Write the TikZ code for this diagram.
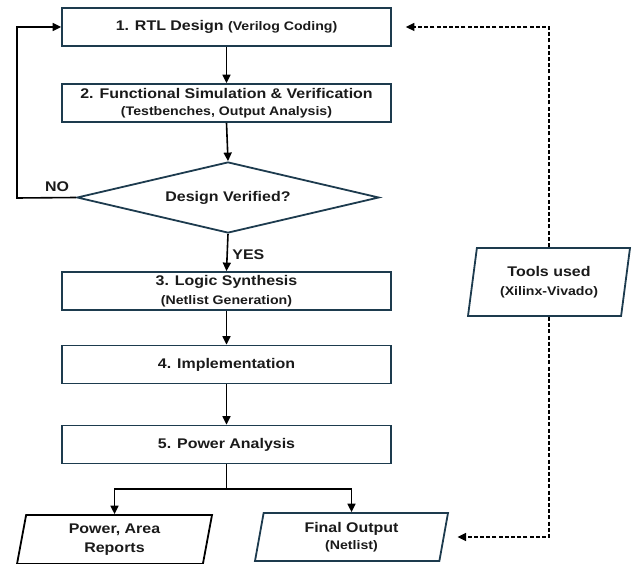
\documentclass[tikz,border=0pt]{standalone}
\usepackage{fontspec}
\setmainfont{Liberation Sans}[FakeStretch=1.14]
\usetikzlibrary{shapes.geometric,arrows.meta}

\definecolor{boxline}{HTML}{1D3B4E}
\definecolor{txt}{HTML}{1A1A1A}
\newcommand{\bigtxt}{\fontsize{14}{16.5}\selectfont\bfseries}
\newcommand{\smalltxt}{\fontsize{12.4}{14}\selectfont\bfseries}
\def\boxwidth{329pt}

\begin{document}
\begin{tikzpicture}[x=1pt,y=-1pt,>={Triangle[length=8.5pt,width=8pt]},font=\bigtxt,text=txt]
    \tikzstyle{stage}=[rectangle,draw=boxline,line width=1.8pt,minimum width=\boxwidth,minimum height=38pt,inner sep=1pt,align=center]
    \tikzstyle{check}=[diamond,draw=boxline,line width=1.8pt,aspect=4.25,minimum width=302pt,minimum height=71pt,inner sep=0pt]
    \tikzstyle{io}=[trapezium,trapezium left angle=75,trapezium right angle=105,trapezium stretches body=true,draw=boxline,line width=1.8pt,inner sep=1pt,align=center]
    \tikzstyle{flow}=[->,line width=1.6pt,draw=black]
    \tikzstyle{tool}=[->,line width=1.4pt,draw=black,dash pattern=on 4pt off 2.2pt]

    \useasboundingbox (0,0) rectangle (637,564);

    % design flow
    \node[stage] (rtl) at (226.5,27) {1. RTL Design {\smalltxt(Verilog Coding)}};
    \node[stage,text depth=2pt] (sim) at (226.5,103) {2. Functional Simulation \& Verification\\[0pt]{\smalltxt(Testbenches, Output Analysis)}};
    \node[check] (ok) at (228,197.5) {Design Verified?};
    \node[stage] (syn) at (226.5,291) {3. Logic Synthesis\\[3pt]{\smalltxt(Netlist Generation)}};
    \node[stage] (impl) at (226.5,364.5) {4. Implementation};
    \node[stage] (pwr) at (226.5,444.5) {5. Power Analysis};

    % outputs and tools
    \node[io,draw=black,minimum width=195pt,minimum height=49pt] (rep) at (114.5,539.5) {Power, Area\\[3pt]Reports};
    \node[io,minimum width=193pt,minimum height=48pt] (out) at (351.5,537) {Final Output\\[1pt]{\smalltxt(Netlist)}};
    \node[io,minimum width=162pt,minimum height=68pt] (tools) at (549,282) {Tools used\\[2pt]{\smalltxt(Xilinx-Vivado)}};

    \coordinate (split) at (226.5,489);
    \coordinate (back) at (17,198);

    \draw[flow] (rtl) -- (sim);
    \draw[flow] (sim.south) -- (ok.north);
    \draw[flow] (ok.south) -- node[right,xshift=1pt,yshift=-2pt] {YES} (syn.north);
    \draw[flow] (syn) -- (impl);
    \draw[flow] (impl) -- (pwr);
    \draw[flow] (ok.west) -- (back) |- (rtl.west);
    \node at (57,187) {NO};

    \draw[line width=1.6pt] (pwr.south) -- (split);
    \draw[flow] (split) -| (rep.north);
    \draw[flow] (split) -| (out.north);

    \draw[tool,shorten >=14pt] (tools.north) |- (rtl.east);
    \draw[tool,shorten >=13pt] (tools.south) |- (out.east);
\end{tikzpicture}
\end{document}
